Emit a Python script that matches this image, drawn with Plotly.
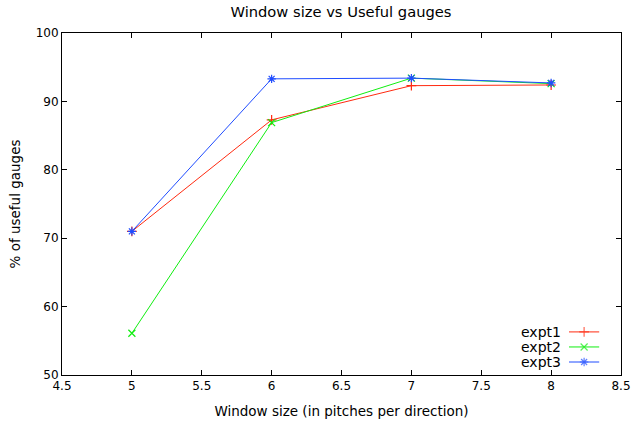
import plotly.graph_objects as go

window_sizes = [5, 6, 7, 8]
expt1 = [71.0, 87.3, 92.3, 92.4]
expt2 = [56.1, 86.9, 93.4, 92.6]
expt3 = [71.0, 93.3, 93.4, 92.7]
series_names = ["expt1", "expt2", "expt3"]
series_colors = ["#ff2a10", "#10ee10", "#1f4cff"]
series_symbols = ["cross-thin", "x-thin", "asterisk"]
x_ticks = [4.5, 5, 5.5, 6, 6.5, 7, 7.5, 8, 8.5]
x_tick_labels = ["4.5", "5", "5.5", "6", "6.5", "7", "7.5", "8", "8.5"]
y_ticks = [50, 60, 70, 80, 90, 100]

FONT = "DejaVu Sans"
fig = go.Figure()
for name, vals, col, sym in zip(series_names, [expt1, expt2, expt3], series_colors, series_symbols):
    fig.add_trace(go.Scatter(
        x=window_sizes, y=vals, name=name, mode="lines+markers",
        line=dict(color=col, width=1),
        marker=dict(symbol=sym, size=7, color=col, line=dict(color=col, width=1.2)),
        showlegend=False,
    ))

# custom gnuplot-style legend (text on left, sample on right)
leg_y = [0.126, 0.082, 0.038]
for name, col, sym, yy in zip(series_names, series_colors, series_symbols, leg_y):
    fig.add_annotation(x=0.897, y=yy, xref="paper", yref="paper", text=name,
                       showarrow=False, xanchor="right", yanchor="middle",
                       font=dict(family=FONT, size=14, color="black"))
    fig.add_trace(go.Scatter(
        x=[0.907, 0.934, 0.961], y=[yy, yy, yy], xaxis="x2", yaxis="y2",
        mode="lines+markers", line=dict(color=col, width=1),
        marker=dict(symbol=sym, size=[0, 7, 0], color=col, line=dict(color=col, width=1.2)),
        showlegend=False, hoverinfo="skip",
    ))

axis_common = dict(showline=True, linecolor="black", linewidth=1, mirror="ticks",
                   ticks="inside", ticklen=5, tickcolor="black", showgrid=False,
                   zeroline=False, automargin=False,
                   tickfont=dict(family=FONT, size=12, color="black"))
fig.update_layout(
    width=635, height=427,
    margin=dict(l=62, r=14, t=33, b=52),
    paper_bgcolor="white", plot_bgcolor="white",
    title=dict(text="Window size vs Useful gauges", x=0.537, xanchor="center",
               y=0.972, yanchor="middle",
               font=dict(family=FONT, size=14.7, color="black")),
    xaxis=dict(range=[4.5, 8.5], tickvals=x_ticks, ticktext=x_tick_labels,
               title=dict(text="Window size (in pitches per direction)", standoff=14,
                          font=dict(family=FONT, size=13.5, color="black")),
               **axis_common),
    yaxis=dict(range=[50, 100], tickvals=y_ticks,
               title=dict(text="% of useful gauges", standoff=11,
                          font=dict(family=FONT, size=13.5, color="black")),
               **axis_common),
    xaxis2=dict(overlaying="x", range=[0, 1], visible=False, fixedrange=True),
    yaxis2=dict(overlaying="y", range=[0, 1], visible=False, fixedrange=True),
)
fig.write_html("out.html", config={"displayModeBar": False},
               post_script="document.body.style.margin='0';")
